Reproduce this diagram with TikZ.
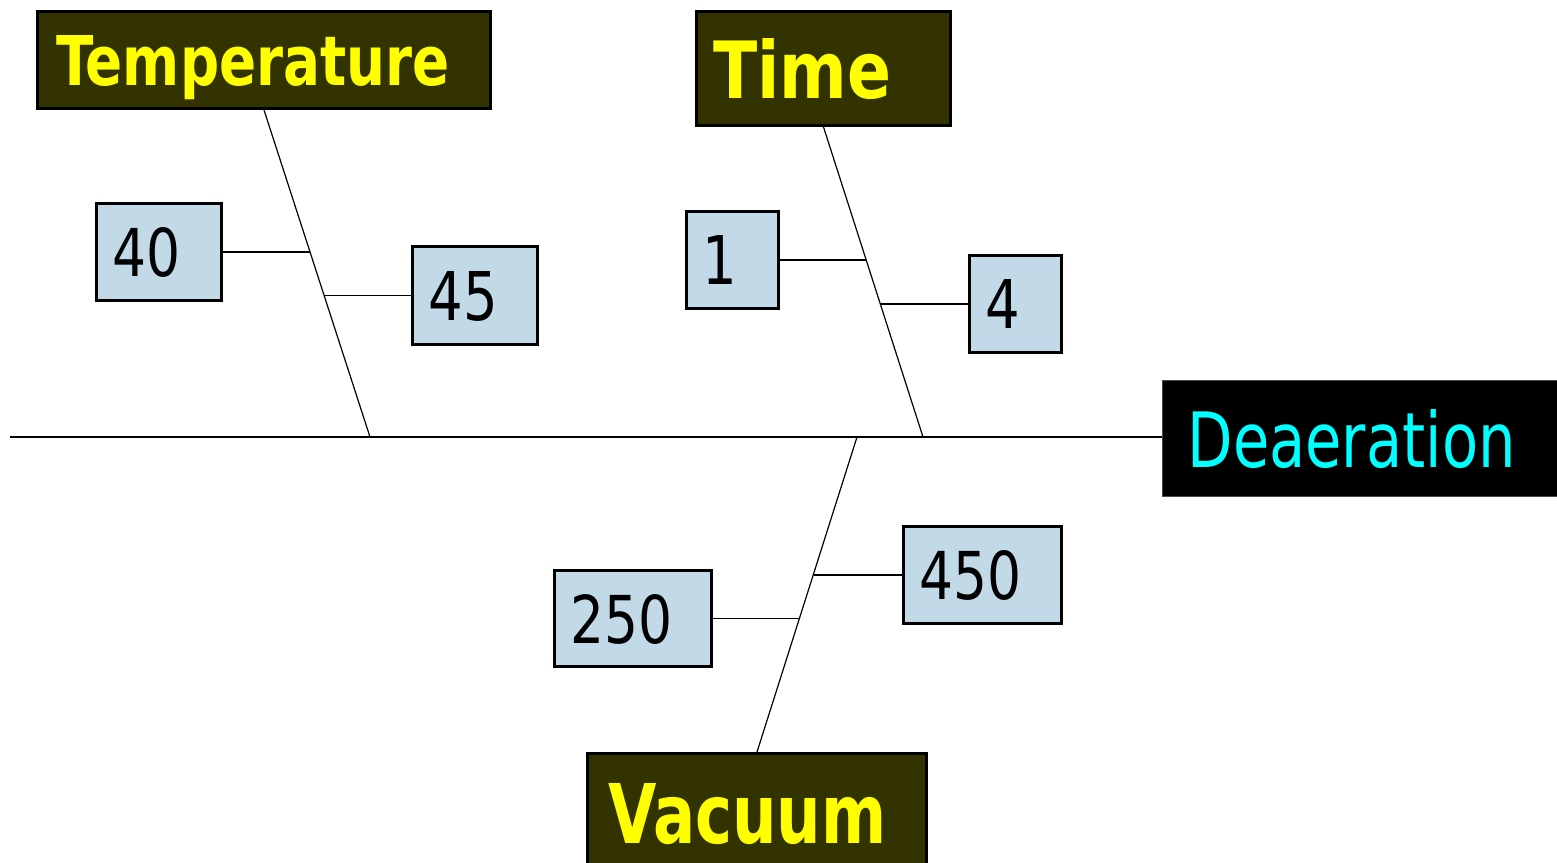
\documentclass[tikz,border=0pt]{standalone}
\usepackage{fontspec}
\setmainfont{DejaVu Sans Condensed}
\usetikzlibrary{calc}
\definecolor{hdrfill}{HTML}{333300}
\definecolor{numfill}{HTML}{C2DAE8}
\definecolor{hdrtext}{HTML}{FFFF00}
\definecolor{efftext}{HTML}{00FFFF}
\newcommand\fitxy[3]{\raisebox{0pt}[\height][0pt]{\resizebox{#1}{#2}{#3}}}
\newcommand\fity[2]{\raisebox{0pt}[\height][0pt]{\scalebox{0.9}[1]{\resizebox{!}{#1}{#2}}}}
\tikzset{
  hdr/.style={draw=black, line width=1.5pt, fill=hdrfill, text=hdrtext, anchor=north west,
    inner ysep=0pt, align=left, font=\bfseries},
  numbox/.style={draw=black, line width=1.5pt, fill=numfill, text=black, anchor=north west,
    inner ysep=0pt, inner xsep=8pt, align=left},
  eff/.style={draw=black!70, line width=0.5pt, fill=black, text=efftext, anchor=north west,
    inner ysep=0pt, align=left},
  bone/.style={line width=0.6pt, draw=black},
}
\begin{document}
\begin{tikzpicture}[x=0.5pt,y=-0.5pt]
\useasboundingbox (0,0) rectangle (1557,862);
\fill[white] (0,0) rectangle (1557,862);

% effect
\node[eff, inner xsep=12.5pt, text width=185pt, minimum height=58pt] (Deaeration) at (1162,380)
  {\fitxy{164pt}{29pt}{Deaeration}};

% causes
\node[hdr, inner xsep=9.5pt, text width=207.5pt, minimum height=48.5pt] (Temperature) at (36,10)
  {\fitxy{196.5pt}{25pt}{Temperature}};
\node[hdr, inner xsep=8.5pt, text width=110pt, minimum height=57pt] (Time) at (695,10)
  {\fitxy{89pt}{30pt}{Time}};
\node[hdr, inner xsep=10.5pt, text width=148.5pt, minimum height=60pt] (Vacuum) at (586,752)
  {\fitxy{139pt}{30pt}{Vacuum}};

% values
\node[numbox, text width=46.5pt, minimum height=48.5pt] (n40) at (95,202) {\fity{24.5pt}{40}};
\node[numbox, text width=46.5pt, minimum height=49pt] (n45) at (411,245) {\fity{24.5pt}{45}};
\node[numbox, text width=30pt, minimum height=48.5pt] (n1) at (685,210) {\fity{24.5pt}{1}};
\node[numbox, text width=30pt, minimum height=48.5pt] (n4) at (968,254) {\fity{24.5pt}{4}};
\node[numbox, text width=62.5pt, minimum height=48pt] (n250) at (553,569) {\fity{24.5pt}{250}};
\node[numbox, text width=63pt, minimum height=48.5pt] (n450) at (902,525) {\fity{24.5pt}{450}};

% spine
\coordinate (L) at (10,437);
\coordinate (tB) at (370,437);
\coordinate (mB) at (923,437);
\coordinate (vB) at (857,437);
\draw[bone] (L) -- (L -| Deaeration.west);

% bones
\draw[bone] (Temperature.south) -- (tB);
\draw[bone] (Time.south) -- (mB);
\draw[bone] (vB) -- (Vacuum.north);

% junctions on the bones
\coordinate (p40) at ($(Temperature.south)!0.4348!(tB)$);
\coordinate (p45) at ($(Temperature.south)!0.5667!(tB)$);
\coordinate (p1) at ($(Time.south)!0.4297!(mB)$);
\coordinate (p4) at ($(Time.south)!0.5703!(mB)$);
\coordinate (p450) at ($(vB)!0.4333!(Vacuum.north)$);
\coordinate (p250) at ($(vB)!0.5714!(Vacuum.north)$);

% sub-bones
\draw[bone] (n40.east) -- (n40.east -| p40);
\draw[bone] (n45.west) -- (n45.west -| p45);
\draw[bone] (n1.east) -- (n1.east -| p1);
\draw[bone] (n4.west) -- (n4.west -| p4);
\draw[bone] (n450.west) -- (n450.west -| p450);
\draw[bone] (n250.east) -- (n250.east -| p250);
\end{tikzpicture}
\end{document}
